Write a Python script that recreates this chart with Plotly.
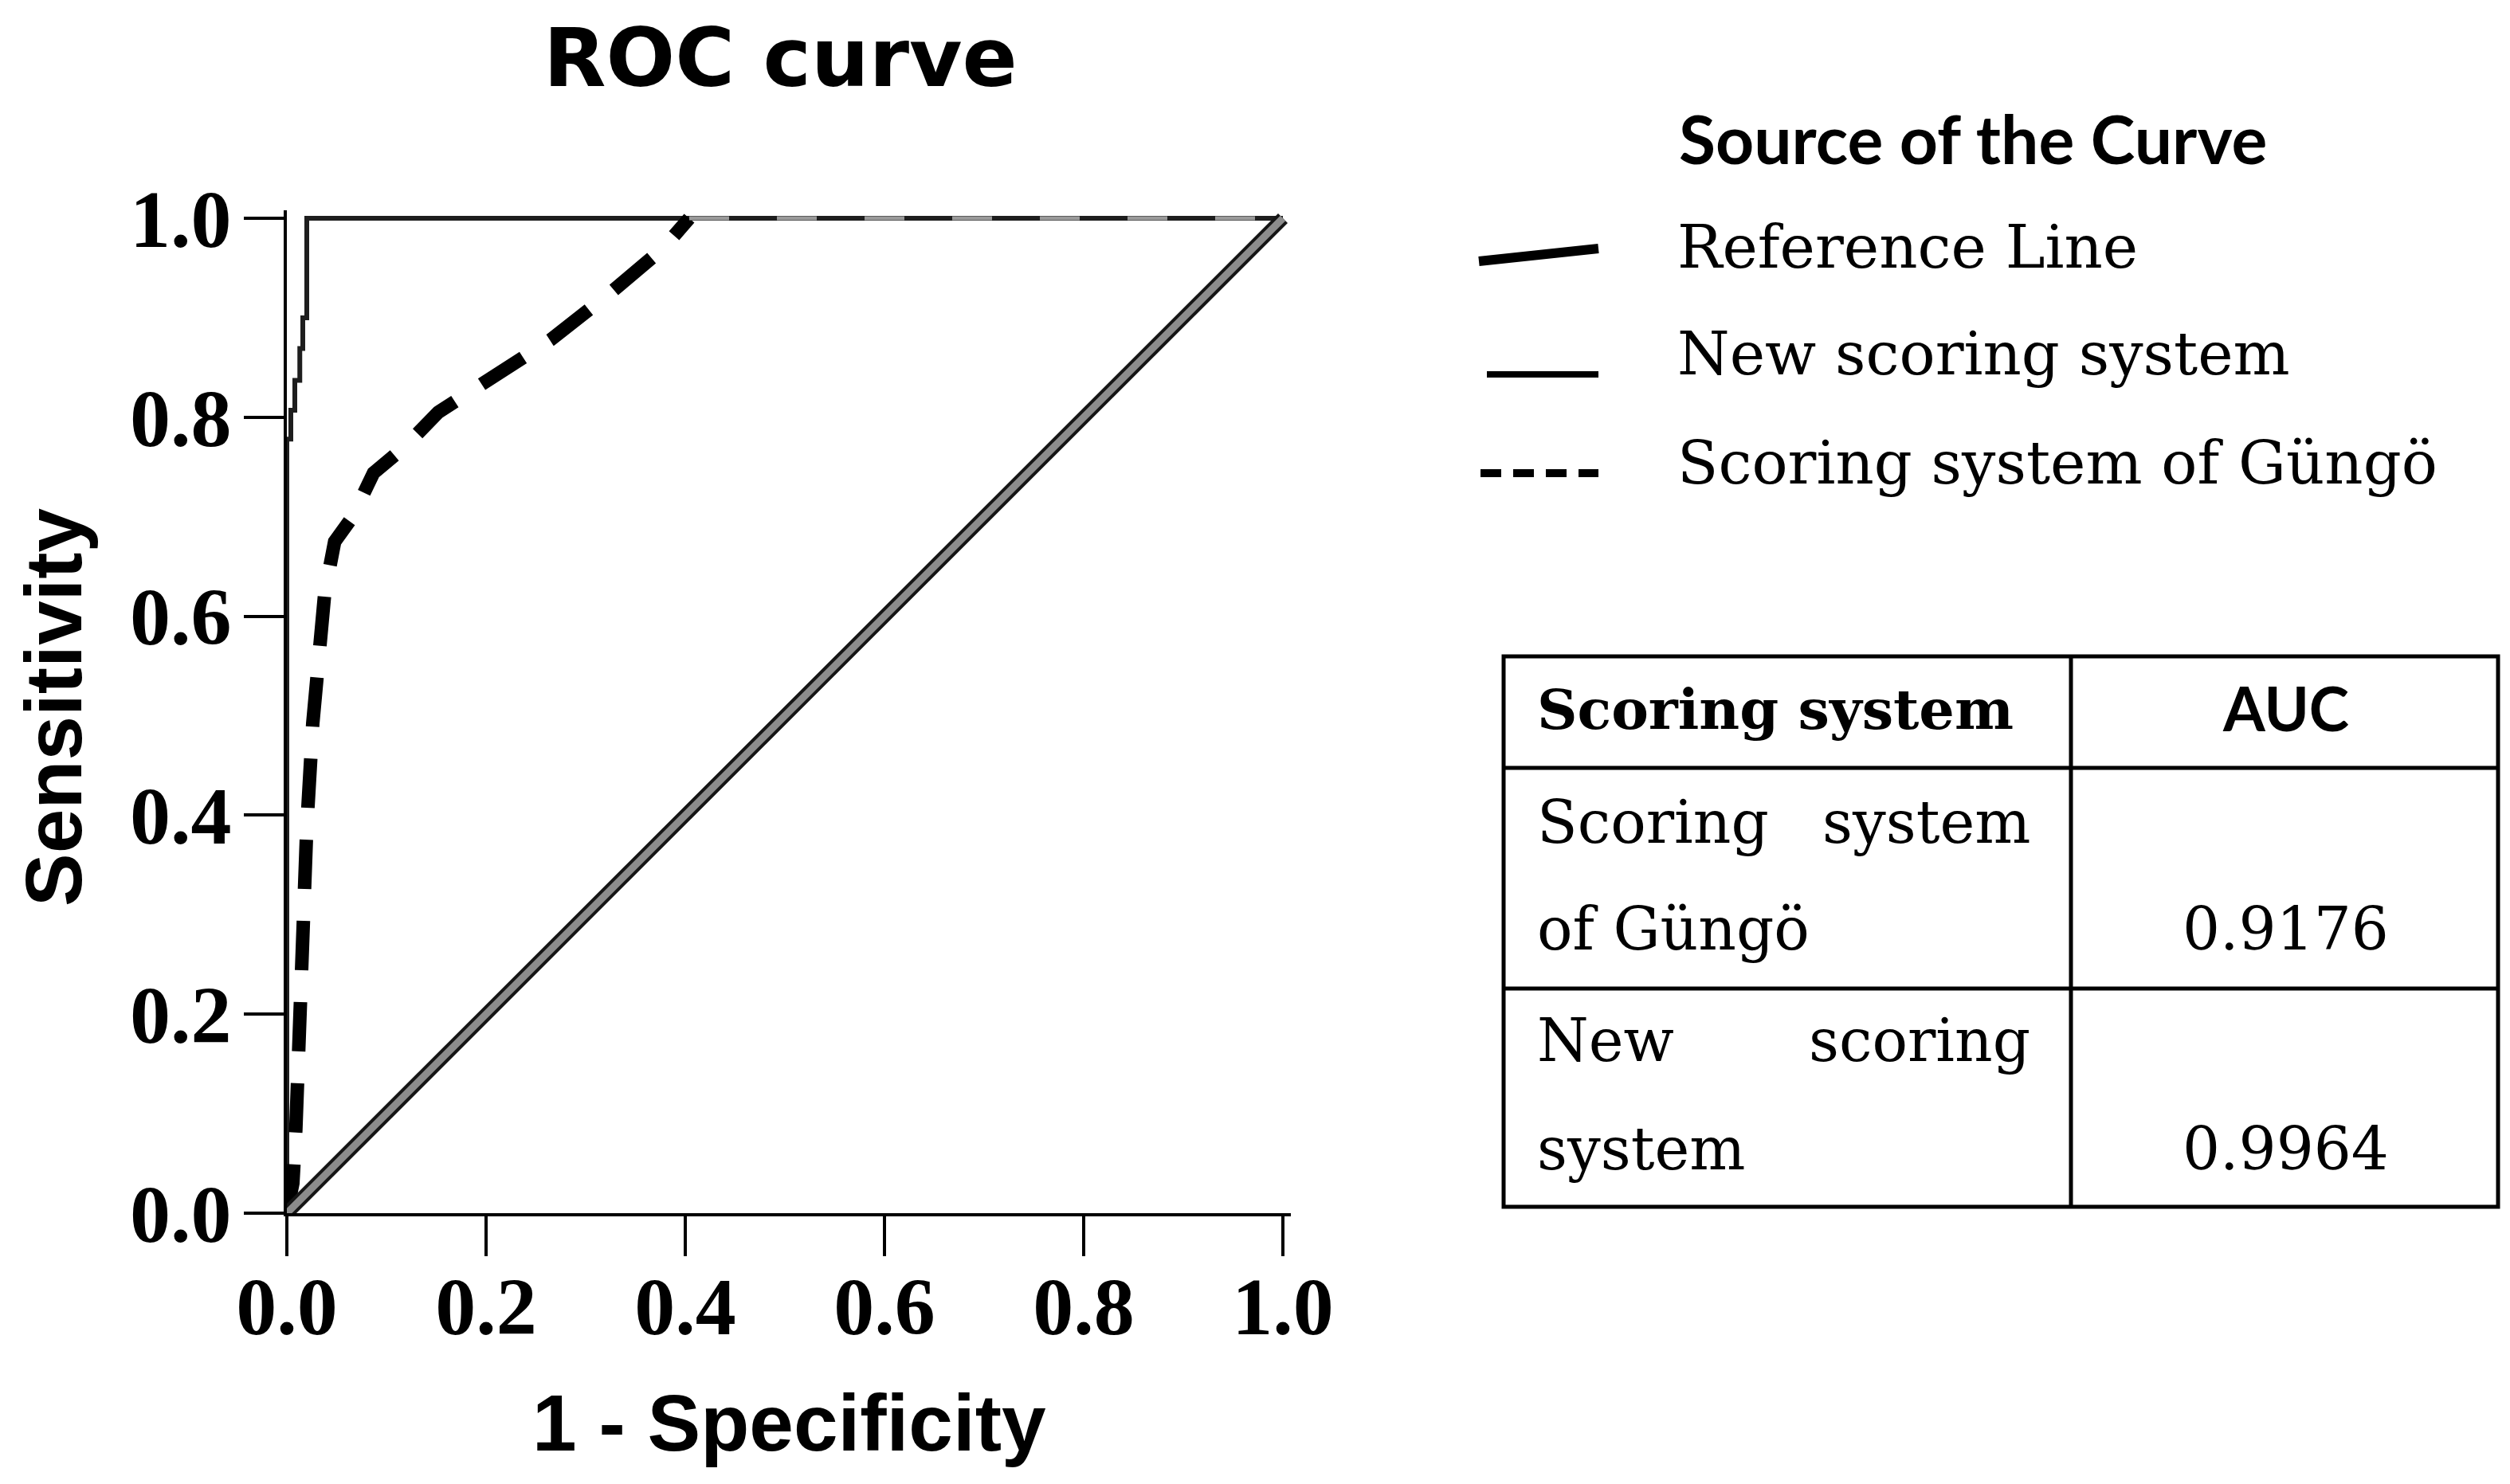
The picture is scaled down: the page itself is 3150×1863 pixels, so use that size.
import plotly.graph_objects as go

# ROC data
ref_fpr = [0.0, 1.0]
ref_tpr = [0.0, 1.0]

new_fpr = [0.0, 0.004, 0.008, 0.013, 0.016, 0.020, 1.0]
new_tpr = [0.0, 0.778, 0.807, 0.837, 0.869, 0.900, 1.0]

gungo_fpr = [0.0, 0.006, 0.009, 0.014, 0.020, 0.026, 0.033, 0.038, 0.048, 0.066,
             0.087, 0.118, 0.152, 0.204, 0.265, 0.326, 0.378, 0.404, 1.0]
gungo_tpr = [0.0, 0.030, 0.084, 0.258, 0.388, 0.492, 0.579, 0.623, 0.675, 0.700,
             0.744, 0.770, 0.805, 0.840, 0.878, 0.926, 0.970, 1.0, 1.0]

tick_vals = [0.0, 0.2, 0.4, 0.6, 0.8, 1.0]

legend_labels = ["Reference Line", "New scoring system", "Scoring system of Güngö"]
table_header = ["Scoring system", "AUC"]
auc_values = ["0.9176", "0.9964"]

W, H = 3150, 1863


def px(x):
    return x / W


def py(y):
    return 1 - y / H


SANS = "Liberation Sans"
SERIF = "DejaVu Serif"

fig = go.Figure()

# New scoring system (thin solid step curve)
fig.add_trace(go.Scatter(x=new_fpr, y=new_tpr, mode="lines", line_shape="vh",
                         line=dict(color="#1e1e1e", width=6), showlegend=False))
# Scoring system of Güngö (thick dashed); the flat tail on y=1 shows as faint grey dashes
fig.add_trace(go.Scatter(x=gungo_fpr[:-1], y=gungo_tpr[:-1], mode="lines",
                         line=dict(color="black", width=17, dash="62px,40px"), showlegend=False))
fig.add_trace(go.Scatter(x=gungo_fpr[-2:], y=gungo_tpr[-2:], mode="lines",
                         line=dict(color="#9a9a9a", width=5, dash="50px,60px"), showlegend=False))
# Reference line: black outline with grey core
fig.add_trace(go.Scatter(x=ref_fpr, y=ref_tpr, mode="lines",
                         line=dict(color="#151515", width=17), showlegend=False))
fig.add_trace(go.Scatter(x=ref_fpr, y=ref_tpr, mode="lines",
                         line=dict(color="#8c8c8c", width=9), showlegend=False))

# plot area: data 0 -> 352px, 1 -> 1602px ; y 0 -> 1515px, 1 -> 266px
xr = [0.0, 1.008]
yr = [0.0, 1.008]
x_dom = [px(352), px(352 + 1.008 * 1250)]
y_dom = [py(1515), py(1515 - 1.008 * 1249)]

axis_common = dict(
    tickvals=tick_vals, tickformat=".1f", ticks="outside", ticklen=50, tickwidth=4,
    tickcolor="black", showline=True, linewidth=4, linecolor="black",
    showgrid=False, zeroline=False, automargin=False,
    tickfont=dict(family="Liberation Serif", size=102, color="black", weight="bold"),
)
fig.update_xaxes(range=xr, domain=x_dom, ticklabelstandoff=-24, **axis_common)
fig.update_yaxes(range=yr, domain=y_dom, ticklabelstandoff=-5, **axis_common)


def note(text, x, y, anchor="center", size=74, family=SERIF, bold=False, angle=0):
    return dict(x=px(x), y=py(y), xref="paper", yref="paper", text=text,
                showarrow=False, xanchor=anchor, yanchor="middle", textangle=angle,
                font=dict(family=family, size=size, color="black",
                          weight="bold" if bold else "normal"))


ann = []
ann.append(note("ROC curve", 972, 64, size=102, family="DejaVu Sans", bold=True))
ann.append(note("1 - Specificity", 983, 1778, size=100, family=SANS, bold=True))
ann.append(note("Sensitivity", 59, 880, size=100, family=SANS, bold=True, angle=-90))

# custom legend
ann.append(note("Source of the Curve", 2097, 166, anchor="left", size=84,
                family="Lato", bold=True))
legend_y = [302, 436, 573]
for lab, yy in zip(legend_labels, legend_y):
    ann.append(note(lab, 2095, yy, anchor="left", size=75))

shapes = []
shapes.append(dict(type="line", xref="paper", yref="paper",
                   x0=px(1848), y0=py(320), x1=px(1998), y1=py(304),
                   line=dict(color="black", width=12)))
shapes.append(dict(type="line", xref="paper", yref="paper",
                   x0=px(1858), y0=py(462), x1=px(1998), y1=py(462),
                   line=dict(color="black", width=8)))
shapes.append(dict(type="line", xref="paper", yref="paper",
                   x0=px(1850), y0=py(586), x1=px(1998), y1=py(586),
                   line=dict(color="black", width=10, dash="26px,15px")))

# AUC table
tl, tr, tc = 1879, 3127, 2591
tt, tb = 816, 1507
rows = [956, 1233]
tbl = dict(color="black", width=5)
shapes.append(dict(type="rect", xref="paper", yref="paper",
                   x0=px(tl), y0=py(tt), x1=px(tr), y1=py(tb), line=tbl))
shapes.append(dict(type="line", xref="paper", yref="paper",
                   x0=px(tc), y0=py(tt), x1=px(tc), y1=py(tb), line=tbl))
for ry in rows:
    shapes.append(dict(type="line", xref="paper", yref="paper",
                       x0=px(tl), y0=py(ry), x1=px(tr), y1=py(ry), line=tbl))

cell_left, cell_right, auc_center = 1919, 2542, 2860

ann.append(note(table_header[0], cell_left, 882, anchor="left", size=70, bold=True))
ann.append(note(table_header[1], auc_center, 880, size=76, bold=True, family="Lato"))
# row 1 (justified two-line cell)
ann.append(note("Scoring", cell_left, 1024, anchor="left"))
ann.append(note("system", cell_right, 1024, anchor="right"))
ann.append(note("of Güngö", cell_left, 1158, anchor="left"))
ann.append(note(auc_values[0], auc_center, 1158))
# row 2
ann.append(note("New", cell_left, 1298, anchor="left"))
ann.append(note("scoring", cell_right, 1298, anchor="right"))
ann.append(note("system", cell_left, 1434, anchor="left"))
ann.append(note(auc_values[1], auc_center, 1434))

fig.update_layout(
    template="none",
    width=W, height=H,
    margin=dict(l=0, r=0, t=0, b=0, autoexpand=False),
    paper_bgcolor="white", plot_bgcolor="white",
    annotations=ann, shapes=shapes,
    showlegend=False,
)

fig.write_html("out.html")
